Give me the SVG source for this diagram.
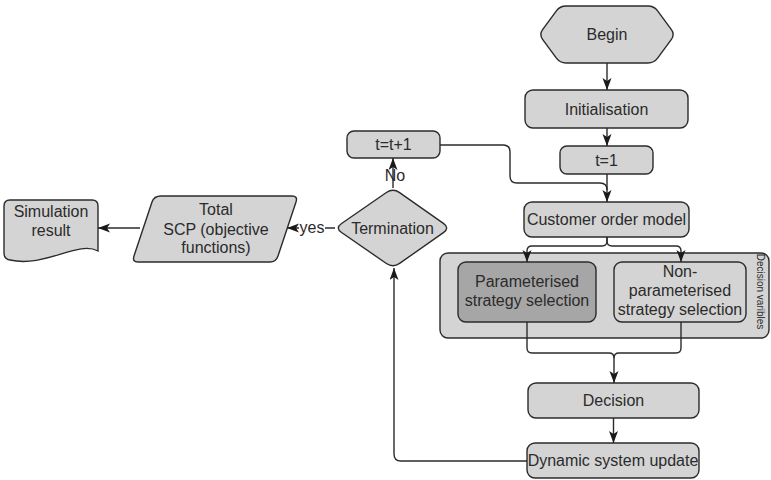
<svg xmlns="http://www.w3.org/2000/svg" width="771" height="480" viewBox="0 0 771 480">
  <style>
    .box { fill: #d4d4d4; stroke: #2b2b2b; stroke-width: 1.4; }
    .dark { fill: #a6a6a6; }
    .lbl { font-family: "Liberation Sans", Arial, sans-serif; font-size: 16px; fill: #2b2b2b; text-anchor: middle; }
    .small { font-size: 10px; }
    .wire { fill: none; stroke: #2b2b2b; stroke-width: 1.4; }
  </style>
  <defs>
    <marker id="arrow" markerUnits="userSpaceOnUse" markerWidth="13" markerHeight="10" refX="12" refY="4.5" orient="auto">
      <path d="M0,0 L12,4.5 L0,9 L3,4.5 Z" fill="#1a1a1a"/>
    </marker>
  </defs>
  <rect width="771" height="480" fill="#ffffff"/>

  <!-- decision variables container -->
  <g id="decision-variables">
    <rect class="box" x="440" y="253" width="329" height="85" rx="8"/>
    <text class="lbl small" x="757" y="291.5" transform="rotate(90 757 291.5)">Decision varibles</text>
  </g>

  <g id="begin">
    <path class="box" d="M542.6,29.7 L556.4,10.8 Q560,6 566,6 L648,6 Q654,6 657.6,10.8 L671.4,29.7 Q675,34.5 671.4,39.3 L657.6,58.2 Q654,63 648,63 L566,63 Q560,63 556.4,58.2 L542.6,39.3 Q539,34.5 542.6,29.7 Z"/>
    <text class="lbl" x="607" y="40">Begin</text>
  </g>

  <g id="initialisation">
    <rect class="box" x="525" y="90" width="163" height="38" rx="8"/>
    <text class="lbl" x="606.5" y="114.5">Initialisation</text>
  </g>

  <g id="t-init">
    <rect class="box" x="560" y="146" width="93" height="28" rx="7"/>
    <text class="lbl" x="606.5" y="165.5">t=1</text>
  </g>

  <g id="t-increment">
    <rect class="box" x="347" y="131" width="93" height="27" rx="7"/>
    <text class="lbl" x="393.5" y="150">t=t+1</text>
  </g>

  <g id="customer-order-model">
    <rect class="box" x="524" y="202" width="165" height="35" rx="8"/>
    <text class="lbl" x="606.5" y="225">Customer order model</text>
  </g>

  <g id="parameterised">
    <rect class="box dark" x="458" y="262" width="138" height="60" rx="8"/>
    <text class="lbl" x="527" y="287">Parameterised</text>
    <text class="lbl" x="527" y="306">strategy selection</text>
  </g>

  <g id="non-parameterised">
    <rect class="box" x="614" y="262" width="132" height="60" rx="8"/>
    <text class="lbl" x="680" y="277">Non-</text>
    <text class="lbl" x="680" y="296">parameterised</text>
    <text class="lbl" x="680" y="315">strategy selection</text>
  </g>

  <g id="decision">
    <rect class="box" x="528" y="383" width="171" height="35" rx="8"/>
    <text class="lbl" x="613.5" y="406">Decision</text>
  </g>

  <g id="dynamic-system-update">
    <rect class="box" x="527" y="443" width="172" height="35" rx="8"/>
    <text class="lbl" x="613" y="466">Dynamic system update</text>
  </g>

  <g id="termination">
    <path class="box" d="M341.6,223.5 L386.4,192.5 Q393,188 399.6,192.6 L443.4,223.4 Q450,228 443.4,232.6 L399.6,263.4 Q393,268 386.4,263.5 L341.6,232.5 Q335,228 341.6,223.5 Z"/>
    <text class="lbl" x="392.5" y="233.5">Termination</text>
  </g>

  <g id="total-scp">
    <path class="box" d="M161,196 L292,196 Q298,196 296,202 L278,256 Q276,262 270,262 L138,262 Q132,262 134,256 L152,202 Q154,196 161,196 Z"/>
    <text class="lbl" x="216" y="215">Total</text>
    <text class="lbl" x="216" y="235">SCP (objective</text>
    <text class="lbl" x="216" y="253">functions)</text>
  </g>

  <g id="simulation-result">
    <path class="box" d="M10,200 H92 Q98,200 98,206 V251 C78,240 45,268 10,260 Q4,259 4,253 V206 Q4,200 10,200 Z"/>
    <text class="lbl" x="51" y="217">Simulation</text>
    <text class="lbl" x="51" y="236">result</text>
  </g>

  <g id="connectors">
    <path class="wire" d="M607,63 V90" marker-end="url(#arrow)"/>
    <path class="wire" d="M607,128 V146" marker-end="url(#arrow)"/>
    <path class="wire" d="M607,174 V202" marker-end="url(#arrow)"/>
    <path class="wire" d="M440,145 H503 Q510,145 510,152 V176 Q510,183 517,183 H600 Q607,183 607,190"/>
    <path class="wire" d="M607,237 V241 Q607,246 602,246 H532 Q527,246 527,251 V262" marker-end="url(#arrow)"/>
    <path class="wire" d="M607,237 V241 Q607,246 612,246 H676 Q681,246 681,251 V262" marker-end="url(#arrow)"/>
    <path class="wire" d="M527,322 V348 Q527,353 532,353 H609 Q614,353 614,358 V383" marker-end="url(#arrow)"/>
    <path class="wire" d="M681,322 V348 Q681,353 676,353 H619 Q614,353 614,358"/>
    <path class="wire" d="M613.5,418 V443" marker-end="url(#arrow)"/>
    <path class="wire" d="M527,461 H401 Q394,461 394,454 V268" marker-end="url(#arrow)"/>
    <path class="wire" d="M393,188 V158" marker-end="url(#arrow)"/>
    <path class="wire" d="M335,228 H287" marker-end="url(#arrow)"/>
    <path class="wire" d="M140,228 H98" marker-end="url(#arrow)"/>
    <rect x="299" y="220" width="26" height="15" fill="#ffffff"/>
    <text class="lbl" x="312" y="233">yes</text>
    <text class="lbl" x="395" y="181">No</text>
  </g>
</svg>
